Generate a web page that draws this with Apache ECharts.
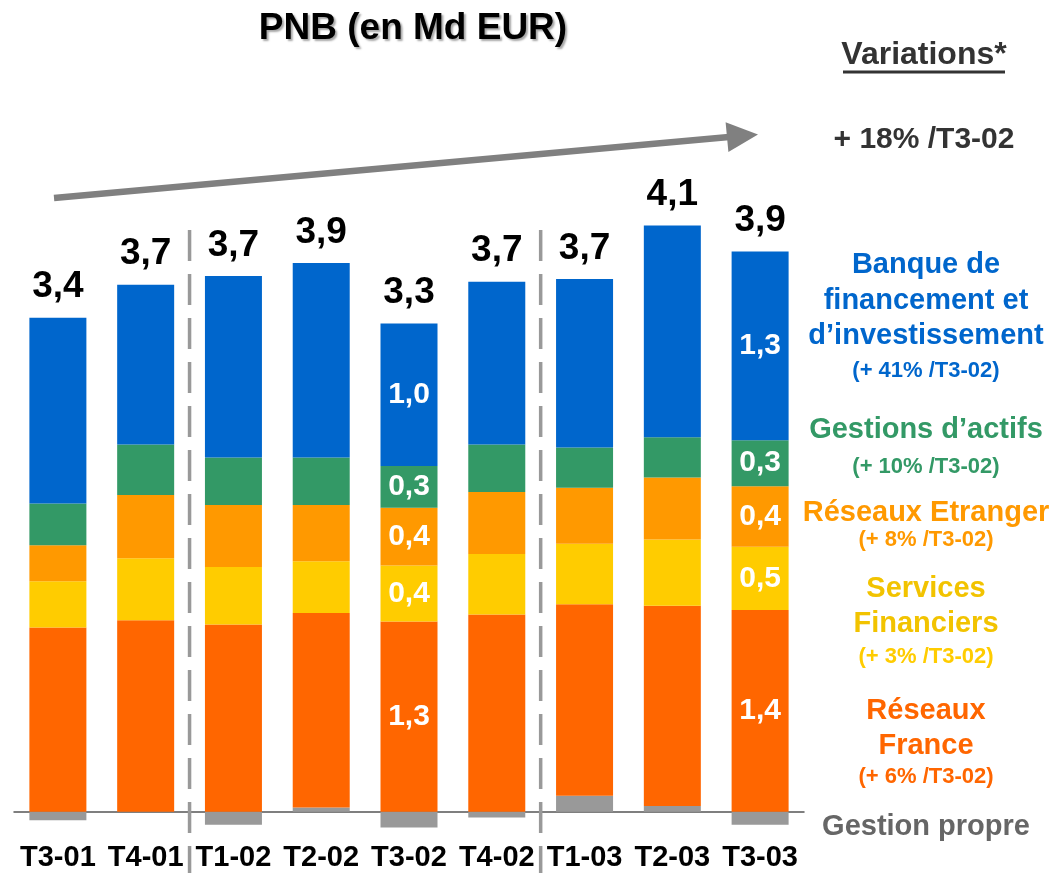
<!DOCTYPE html>
<html>
<head>
<meta charset="utf-8">
<title>PNB (en Md EUR)</title>
<script src="https://cdn.jsdelivr.net/npm/echarts@6.0.0/dist/echarts.min.js"></script>
<style>
  html, body { margin: 0; padding: 0; background: #fff; }
  #chart { width: 1052px; height: 873px; }
</style>
</head>
<body>
<div id="chart"></div>
<script>
// données (Md EUR)
const categories = ['T3-01', 'T4-01', 'T1-02', 'T2-02', 'T3-02', 'T4-02', 'T1-03', 'T2-03', 'T3-03']
const gestionPropre = [-0.06, 0, -0.09, 0.03, -0.11, -0.04, 0.11, 0.04, -0.09]
const reseauxFrance = [1.28, 1.33, 1.30, 1.35, 1.32, 1.37, 1.33, 1.39, 1.40]
const servicesFinanciers = [0.32, 0.43, 0.40, 0.36, 0.39, 0.42, 0.42, 0.46, 0.44]
const reseauxEtranger = [0.25, 0.44, 0.43, 0.39, 0.40, 0.43, 0.39, 0.43, 0.42]
const gestionsActifs = [0.29, 0.35, 0.33, 0.33, 0.29, 0.33, 0.28, 0.28, 0.32]
const banqueFinancement = [1.29, 1.11, 1.26, 1.35, 0.99, 1.13, 1.17, 1.47, 1.31]
const totalLabels = ['3,4', '3,7', '3,7', '3,9', '3,3', '3,7', '3,7', '4,1', '3,9']

// libellés affichés dans les barres (seulement T3-02 et T3-03)
const franceLabels = ['', '', '', '', '1,3', '', '', '', '1,4']
const servicesLabels = ['', '', '', '', '0,4', '', '', '', '0,5']
const etrangerLabels = ['', '', '', '', '0,4', '', '', '', '0,4']
const actifsLabels = ['', '', '', '', '0,3', '', '', '', '0,3']
const bfiLabels = ['', '', '', '', '1,0', '', '', '', '1,3']

const FONT = '"Liberation Sans", Arial, sans-serif'

// haut de la pile positive, pour poser le total au-dessus
const positiveSeries = [gestionPropre, reseauxFrance, servicesFinanciers, reseauxEtranger, gestionsActifs, banqueFinancement]
const stackTops = categories.map((c, i) =>
  positiveSeries.reduce((s, arr) => s + Math.max(arr[i], 0), 0))

function segment(name, values, labels, color) {
  return {
    name: name,
    type: 'bar',
    stack: 'pnb',
    barWidth: 57,
    data: values,
    itemStyle: { color: color },
    emphasis: { disabled: true },
    label: {
      show: labels != null,
      position: 'inside',
      color: '#fff',
      fontSize: 30,
      fontWeight: 'bold',
      fontFamily: FONT,
      formatter: p => labels ? labels[p.dataIndex] : ''
    }
  }
}

let myEcharts = echarts.init(document.getElementById('chart'))
myEcharts.setOption({
  animation: false,
  grid: { left: 14, right: 248, top: 163.7, bottom: 25.3, containLabel: false, outerBoundsMode: 'none' },
  xAxis: {
    type: 'category',
    data: categories,
    axisTick: { show: false },
    axisLine: { lineStyle: { color: '#555', width: 1.5 } },
    axisLabel: {
      color: '#000',
      fontSize: 29,
      fontWeight: 'bold',
      fontFamily: FONT,
      margin: -4,
      interval: 0
    }
  },
  yAxis: {
    type: 'value',
    min: -0.25,
    max: 4.5,
    show: false,
    splitLine: { show: false }
  },
  series: [
    segment('Gestion propre', gestionPropre, null, '#999999'),
    segment('Réseaux France', reseauxFrance, franceLabels, '#FF6600'),
    segment('Services Financiers', servicesFinanciers, servicesLabels, '#FFCC00'),
    segment('Réseaux Etranger', reseauxEtranger, etrangerLabels, '#FF9900'),
    segment('Gestions d\'actifs', gestionsActifs, actifsLabels, '#339966'),
    segment('Banque de financement et d\'investissement', banqueFinancement, bfiLabels, '#0066CC'),
    {
      name: 'Total',
      type: 'scatter',
      data: stackTops,
      symbolSize: 0,
      itemStyle: { color: '#000', opacity: 1 },
      emphasis: { disabled: true },
      label: {
        show: true,
        position: 'top',
        distance: 12,
        color: '#000',
        fontSize: 37,
        fontWeight: 'bold',
        fontFamily: FONT,
        formatter: p => totalLabels[p.dataIndex]
      }
    }
  ]
})

// textes de droite : [texte, y, taille, couleur]
const sideTexts = [
  ['Banque de', 265, 29, '#0066CC'],
  ['financement et', 301, 29, '#0066CC'],
  ['d\u2019investissement', 336, 29, '#0066CC'],
  ['(+ 41% /T3-02)', 371, 22, '#0066CC'],
  ['Gestions d\u2019actifs', 430, 29, '#339966'],
  ['(+ 10% /T3-02)', 467, 22, '#339966'],
  ['Réseaux Etranger', 513, 29, '#FF9900'],
  ['(+ 8% /T3-02)', 540, 22, '#FF9900'],
  ['Services', 589, 29, '#F2C300'],
  ['Financiers', 624, 29, '#F2C300'],
  ['(+ 3% /T3-02)', 657, 22, '#FFCC00'],
  ['Réseaux', 711, 29, '#FF6600'],
  ['France', 746, 29, '#FF6600'],
  ['(+ 6% /T3-02)', 777, 22, '#FF6600'],
  ['Gestion propre', 827, 29, '#666666']
]

const graphics = sideTexts.map(t => ({
  type: 'text',
  style: {
    text: t[0], x: 926, y: t[1], fill: t[3],
    fontSize: t[2], fontWeight: 'bold', fontFamily: FONT,
    align: 'center', verticalAlign: 'middle'
  }
}))

// titre + variations
graphics.push({
  type: 'text',
  style: {
    text: 'PNB (en Md EUR)', x: 413, y: 29, fill: '#000',
    fontSize: 37, fontWeight: 'bold', fontFamily: FONT,
    align: 'center', verticalAlign: 'middle',
    textShadowColor: 'rgba(0,0,0,0.35)', textShadowBlur: 2,
    textShadowOffsetX: 2, textShadowOffsetY: 2
  }
})
graphics.push({
  type: 'text',
  style: {
    text: 'Variations*', x: 924, y: 55, fill: '#333',
    fontSize: 32, fontWeight: 'bold', fontFamily: FONT,
    align: 'center', verticalAlign: 'middle'
  }
})
graphics.push({
  type: 'line',
  shape: { x1: 843, y1: 72, x2: 1005, y2: 72 },
  style: { stroke: '#333', lineWidth: 3 }
})
graphics.push({
  type: 'text',
  style: {
    text: '+ 18% /T3-02', x: 924, y: 140, fill: '#333',
    fontSize: 30, fontWeight: 'bold', fontFamily: FONT,
    align: 'center', verticalAlign: 'middle'
  }
})

// flèche de tendance
graphics.push({
  type: 'line',
  shape: { x1: 54, y1: 198, x2: 729, y2: 137 },
  style: { stroke: '#808080', lineWidth: 6.5 }
})
graphics.push({
  type: 'polygon',
  shape: { points: [[725.6, 122.3], [758, 134.4], [728.4, 152.1]] },
  style: { fill: '#808080' }
})

// séparateurs d'années, entre T4 et T1
;[[1, 2], [5, 6]].forEach(pair => {
  const xa = myEcharts.convertToPixel({ xAxisIndex: 0 }, categories[pair[0]])
  const xb = myEcharts.convertToPixel({ xAxisIndex: 0 }, categories[pair[1]])
  graphics.push({
    type: 'line',
    shape: { x1: (xa + xb) / 2, y1: 230, x2: (xa + xb) / 2, y2: 873 },
    style: { stroke: '#999', lineWidth: 3.5, lineDash: [31, 13] },
    z: 10
  })
})

myEcharts.setOption({ graphic: graphics })
</script>
</body>
</html>
